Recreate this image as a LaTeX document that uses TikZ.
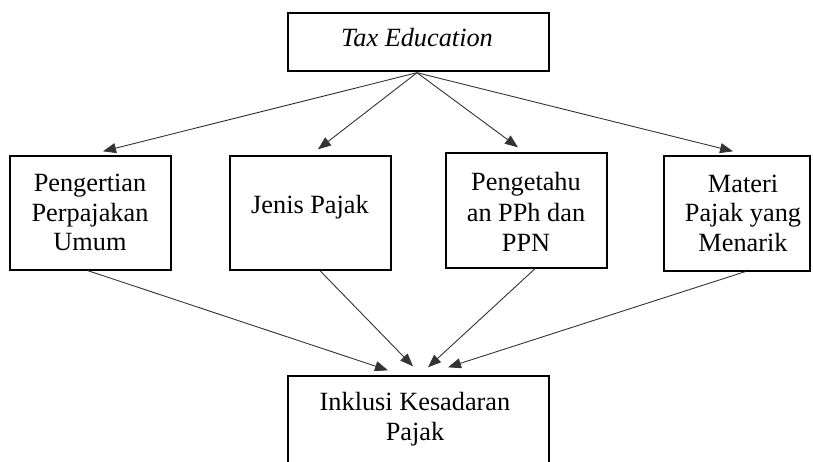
\documentclass[tikz,border=0pt]{standalone}
\usepackage{fontspec}
\setmainfont{Liberation Serif}
\usetikzlibrary{arrows.meta}
\begin{document}
\begin{tikzpicture}[x=1pt,y=-1pt,
  box/.style={draw=black,line width=1.4pt,rectangle,inner sep=0pt},
  lbl/.style={inner sep=0pt,align=center,font=\fontsize{26.3}{30}\selectfont,anchor=base},
  conn/.style={draw=black!80,line width=0.9pt,-{Triangle[length=13pt,width=10pt]}}]
\useasboundingbox (0,0) rectangle (813,461);
\clip (0,0) rectangle (813,461);
% boxes
\node[box,minimum width=261pt,minimum height=58pt] (top) at (418.5,42) {};
\node[box,minimum width=161pt,minimum height=114pt] (b1) at (90.5,213) {};
\node[box,minimum width=161pt,minimum height=114pt] (b2) at (310.5,213) {};
\node[box,minimum width=161pt,minimum height=115pt] (b3) at (526.5,210.5) {};
\node[box,minimum width=146pt,minimum height=115pt] (b4) at (737,213.5) {};
\node[box,minimum width=261pt,minimum height=124pt] (bot) at (418.5,438) {};
% texts
\node[lbl] (ttop) at (417,46) {\itshape Tax Education};
\node[lbl] (t1a) at (90,191) {Pengertian};
\node[lbl] (t1b) at (90,221) {Perpajakan};
\node[lbl] (t1c) at (90,250) {Umum};
\node[lbl] (t2) at (310,213) {Jenis Pajak};
\node[lbl] (t3a) at (526,190) {Pengetahu};
\node[lbl] (t3b) at (526,221) {an PPh dan};
\node[lbl] (t3c) at (526,251) {PPN};
\node[lbl] (t4a) at (743,192) {Materi};
\node[lbl] (t4b) at (743,221) {Pajak yang};
\node[lbl] (t4c) at (743,251) {Menarik};
\node[lbl] (t5a) at (415,410) {Inklusi Kesadaran};
\node[lbl] (t5b) at (415,440) {Pajak};
% connectors
\coordinate (apex) at ([xshift=-1.5pt,yshift=-1pt]top.south);
\draw[conn] (apex) -- ([xshift=12.5pt,yshift=4pt]b1.north);
\draw[conn] (apex) -- ([xshift=7.5pt,yshift=6pt]b2.north);
\draw[conn] (apex) -- ([xshift=-8.5pt,yshift=5pt]b3.north);
\draw[conn] (apex) -- ([xshift=-4pt,yshift=4pt]b4.north);
\draw[conn] ([xshift=-2.5pt]b1.south) -- ([xshift=-30.5pt,yshift=5pt]bot.north);
\draw[conn] ([xshift=9.5pt]b2.south) -- ([xshift=-5.5pt,yshift=9pt]bot.north);
\draw[conn] ([xshift=8.5pt]b3.south) -- ([xshift=9.5pt,yshift=8pt]bot.north);
\draw[conn] ([xshift=8pt]b4.south) -- ([xshift=29.5pt,yshift=8pt]bot.north);
\end{tikzpicture}
\end{document}
